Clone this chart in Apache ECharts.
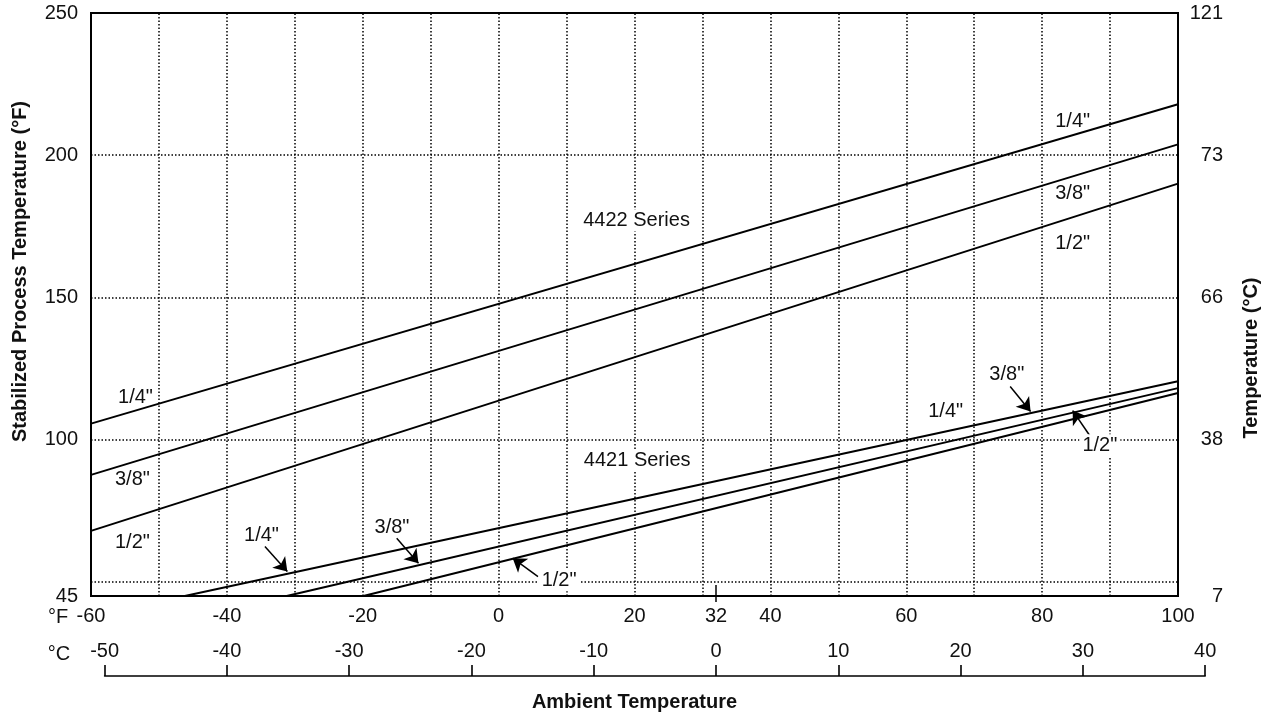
<!DOCTYPE html>
<html>
<head>
<meta charset="utf-8">
<script src="https://cdn.jsdelivr.net/npm/echarts@6/dist/echarts.min.js"></script>
<style>
  html, body { margin: 0; padding: 0; background: #fff; }
  #chart { width: 1267px; height: 717px; }
</style>
</head>
<body>
<div id="chart"></div>
<script>
// Ambient temperature tick labels (°F) on the main axis
const fahrenheitLabels = [-60, -40, -20, 0, 20, 32, 40, 60, 80, 100];
// Process temperature tick positions (°F) and the °C text shown on the right
const processTicks = [45, 100, 150, 200, 250];
const processTickCelsiusText = ['7', '38', '66', '73', '121'];
// Dotted reference lines
const gridLinesX = [-50, -40, -30, -20, -10, 0, 10, 20, 30, 40, 50, 60, 70, 80, 90];
const gridLinesY = [50, 100, 150, 200];

// 4422 Series curves: [ambient °F, stabilized process °F]
const s4422Quarter = [[-60, 105.6], [100, 217.9]];
const s4422ThreeEighths = [[-60, 87.6], [100, 203.8]];
const s4422Half = [[-60, 67.9], [100, 190.0]];
// 4421 Series curves
const s4421Quarter = [[-46.2, 45], [100, 120.5]];
const s4421ThreeEighths = [[-31.2, 45], [100, 118.1]];
const s4421Half = [[-19.9, 45], [100, 116.4]];

// Callout text anchored in data units: [text, ambient °F, process °F, opaque background]
const callouts = [
  ['4422 Series', 20.3, 177.0, true],
  ['4421 Series', 20.4, 92.5, true],
  ['1/4"', -53.45, 114.9, false],
  ['3/8"', -53.9, 85.8, false],
  ['1/2"', -53.9, 63.7, false],
  ['1/4"', 84.5, 211.7, false],
  ['3/8"', 84.5, 186.5, false],
  ['1/2"', 84.5, 168.9, false],
  ['1/4"', 65.8, 109.8, false],
  ['3/8"', 74.8, 122.8, false],
  ['1/2"', 88.5, 98.0, true],
  ['1/4"', -34.9, 66.3, false],
  ['3/8"', -15.7, 69.1, false],
  ['1/2"', 8.9, 50.5, true]
];
// Pointer arrows: [tail, tip] in data units
const pointers = [
  [[-34.4, 62.4], [-31.1, 53.6]],
  [[-15.0, 65.3], [-11.8, 56.5]],
  [[5.8, 51.8], [2.07, 58.3]],
  [[75.3, 118.7], [78.3, 109.9]],
  [[87.1, 101.1], [84.5, 110.2]]
];

const FONT = '"Liberation Sans", Arial, Helvetica, sans-serif';
const W = 1267, H = 717;

// main plot frame
const plotLeft = 91, plotRight = 89, plotTop = 13, plotBottom = H - 596;
const xMinF = -60, xMaxF = 100;
const plotWidth = W - plotLeft - plotRight;
const pxPerF = plotWidth / (xMaxF - xMinF);
const cToF = c => c * 1.8 + 32;
// the Celsius scale shares the Fahrenheit pixel scale
const cMin = -50, cMax = 40;
const cLeft = plotLeft + (cToF(cMin) - xMinF) * pxPerF;
const cRightEdge = plotLeft + (cToF(cMax) - xMinF) * pxPerF;

const chart = echarts.init(document.getElementById('chart'), null, { renderer: 'canvas' });

const curveSeries = (data) => ({
  type: 'line',
  xAxisIndex: 0, yAxisIndex: 0,
  data: data,
  showSymbol: false,
  symbol: 'none',
  silent: true,
  z: 3,
  lineStyle: { color: '#000', width: 2 }
});

const dotted = { color: '#000', width: 1.5, type: [1.5, 2] };

const option = {
  animation: false,
  backgroundColor: '#fff',
  textStyle: { fontFamily: FONT },
  grid: [
    { left: plotLeft, right: plotRight, top: plotTop, bottom: plotBottom,
      show: true, borderColor: '#000', borderWidth: 2, backgroundColor: 'transparent' },
    { left: cLeft, right: W - cRightEdge, top: 620, bottom: H - 676, show: false }
  ],
  xAxis: [
    {
      type: 'value', gridIndex: 0, min: xMinF, max: xMaxF, interval: 20,
      axisLine: { show: false },
      axisTick: { show: true, customValues: [32], length: 6, inside: false,
                  lineStyle: { color: '#000', width: 1.5 } },
      splitLine: { show: false },
      axisLabel: { customValues: fahrenheitLabels, margin: 10,
                   fontSize: 20, color: '#111', fontFamily: FONT }
    },
    {
      type: 'value', gridIndex: 1, min: cMin, max: cMax, interval: 10, position: 'bottom',
      axisLine: { show: true, lineStyle: { color: '#000', width: 1.6 } },
      axisTick: { show: true, inside: true, length: 11, lineStyle: { color: '#000', width: 1.6 } },
      splitLine: { show: false },
      axisLabel: { inside: true, margin: 15, fontSize: 20, color: '#111', fontFamily: FONT,
                   showMinLabel: true, showMaxLabel: true }
    }
  ],
  yAxis: [
    {
      type: 'value', gridIndex: 0, min: 45, max: 250, position: 'left',
      axisLine: { show: false }, axisTick: { show: false }, splitLine: { show: false },
      axisLabel: { customValues: processTicks, margin: 13, fontSize: 20, color: '#111', fontFamily: FONT }
    },
    {
      type: 'value', gridIndex: 0, min: 45, max: 250, position: 'right',
      axisLine: { show: false }, axisTick: { show: false }, splitLine: { show: false },
      axisLabel: {
        customValues: processTicks, margin: 45, align: 'right',
        fontSize: 20, color: '#111', fontFamily: FONT,
        formatter: v => {
          const i = processTicks.indexOf(Math.round(v));
          return i >= 0 ? processTickCelsiusText[i] : '';
        }
      }
    },
    { type: 'value', gridIndex: 1, show: false, min: 0, max: 1 }
  ],
  series: [
    // dotted reference grid and the 32 °F mark
    {
      type: 'line', xAxisIndex: 0, yAxisIndex: 0, data: [], silent: true,
      markLine: {
        z: 1, silent: true, symbol: ['none', 'none'], animation: false,
        label: { show: false }, emphasis: { disabled: true },
        lineStyle: dotted,
        data: gridLinesX.map(v => ({ xAxis: v }))
          .concat(gridLinesY.map(v => ({ yAxis: v })))
          .concat([[
            { coord: [32, 45], lineStyle: { type: 'solid', width: 1.5, color: '#000' } },
            { coord: [32, 48.9] }
          ]])
      }
    },
    curveSeries(s4422Quarter),
    curveSeries(s4422ThreeEighths),
    curveSeries(s4422Half),
    curveSeries(s4421Quarter),
    curveSeries(s4421ThreeEighths),
    curveSeries(s4421Half),
    // pointer arrows
    {
      type: 'line', xAxisIndex: 0, yAxisIndex: 0, data: [], silent: true,
      itemStyle: { color: '#000' },
      lineStyle: { color: '#000' },
      markLine: {
        z: 5, silent: true, animation: false,
        symbol: ['none', 'arrow'], symbolSize: 13,
        label: { show: false }, emphasis: { disabled: true },
        lineStyle: { color: '#000', width: 1.5, type: 'solid' },
        itemStyle: { color: '#000' },
        data: pointers.map(p => [{ coord: p[0] }, { coord: p[1] }])
      }
    },
    // callout text
    {
      type: 'scatter', xAxisIndex: 0, yAxisIndex: 0, silent: true, z: 6,
      symbol: 'circle', symbolSize: 0,
      itemStyle: { color: '#000', opacity: 1 },
      label: { show: true, position: 'inside', formatter: '{b}',
               fontSize: 20, color: '#111', fontFamily: FONT },
      emphasis: { disabled: true },
      data: callouts.map(c => ({
        name: c[0], value: [c[1], c[2]],
        label: c[3] ? { backgroundColor: '#fff', padding: [1, 3] } : {}
      }))
    }
  ],
  graphic: [
    { type: 'text', x: 20, y: 271.5, rotation: Math.PI / 2, silent: true,
      style: { text: 'Stabilized Process Temperature (°F)', font: 'bold 20px ' + FONT,
               fill: '#111', textAlign: 'center', textVerticalAlign: 'middle',
               align: 'center', verticalAlign: 'middle' } },
    { type: 'text', x: 1251.5, y: 358, rotation: Math.PI / 2, silent: true,
      style: { text: 'Temperature (°C)', font: 'bold 20px ' + FONT,
               fill: '#111', textAlign: 'center', textVerticalAlign: 'middle',
               align: 'center', verticalAlign: 'middle' } },
    { type: 'text', x: (plotLeft + W - plotRight) / 2, y: 702, silent: true,
      style: { text: 'Ambient Temperature', font: 'bold 20px ' + FONT,
               fill: '#111', textAlign: 'center', textVerticalAlign: 'middle',
               align: 'center', verticalAlign: 'middle' } },
    { type: 'text', x: 58, y: 617, silent: true,
      style: { text: '°F', font: '20px ' + FONT, fill: '#111',
               textAlign: 'center', textVerticalAlign: 'middle',
               align: 'center', verticalAlign: 'middle' } },
    { type: 'text', x: 59, y: 654, silent: true,
      style: { text: '°C', font: '20px ' + FONT, fill: '#111',
               textAlign: 'center', textVerticalAlign: 'middle',
               align: 'center', verticalAlign: 'middle' } }
  ]
};

chart.setOption(option);
</script>
</body>
</html>
